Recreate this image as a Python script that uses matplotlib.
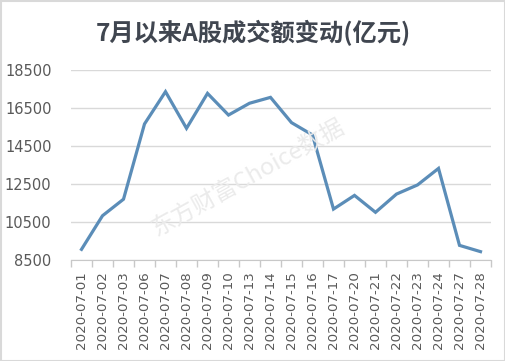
import matplotlib.pyplot as plt
import matplotlib.patches as patches
import numpy as np

plt.rcParams['font.family'] = ['Noto Sans CJK SC', 'DejaVu Sans']

dates = ['2020-07-01', '2020-07-02', '2020-07-03', '2020-07-06', '2020-07-07',
         '2020-07-08', '2020-07-09', '2020-07-10', '2020-07-13', '2020-07-14',
         '2020-07-15', '2020-07-16', '2020-07-17', '2020-07-20', '2020-07-21',
         '2020-07-22', '2020-07-23', '2020-07-24', '2020-07-27', '2020-07-28']
turnover = [9060, 10830, 11700, 15660, 17360, 15430, 17270, 16130, 16750, 17060,
            15730, 15080, 11180, 11900, 11010, 11970, 12450, 13320, 9270, 8940]
yticks = [8500, 10500, 12500, 14500, 16500, 18500]

fig = plt.figure(figsize=(5.06, 3.61), dpi=100)
ax = fig.add_axes([71/506, 1-260/361, 420/506, 190/361])

x = np.arange(len(dates))
ax.plot(x, turnover, color='#5b8db8', lw=2.3, solid_joinstyle='miter', zorder=3)

ax.set_xlim(-0.5, len(dates) - 0.5)
ax.set_ylim(8500, 18500)
ax.set_yticks(yticks)
ax.set_yticklabels([str(v) for v in yticks], fontsize=10.5, color='#595959',
                   family=['DejaVu Sans'])
ax.tick_params(axis='y', length=0, pad=14)
ax.grid(axis='y', color='#d9d9d9', lw=1)
ax.set_axisbelow(True)

ax.set_xticks(x)
ax.set_xticklabels(dates, rotation=90, fontsize=9.6, color='#595959',
                   family=['DejaVu Sans'])
ax.tick_params(axis='x', which='major', length=0, pad=8)
ax.set_xticks(np.arange(-0.5, len(dates)), minor=True)
ax.tick_params(axis='x', which='minor', length=5, color='#c8c8c8', width=1)

for s in ['top', 'right', 'left']:
    ax.spines[s].set_visible(False)
ax.spines['bottom'].set_color('#c8c8c8')

fig.text(0.5, 1-33/361, '7月以来A股成交额变动(亿元)', ha='center', va='center',
         fontsize=17.5, fontweight='bold', color='#404650')

fig.text(248/506, 1-178/361, '东方财富Choice数据', ha='center', va='center',
         fontsize=17, rotation=29, color='#ebebeb', zorder=0)

fig.patches.append(patches.Rectangle((0.001, 0.001), 0.997, 0.997, transform=fig.transFigure,
                                     fill=False, edgecolor='#d9d9d9', lw=1.5))

fig.savefig('out.png', dpi=100)
